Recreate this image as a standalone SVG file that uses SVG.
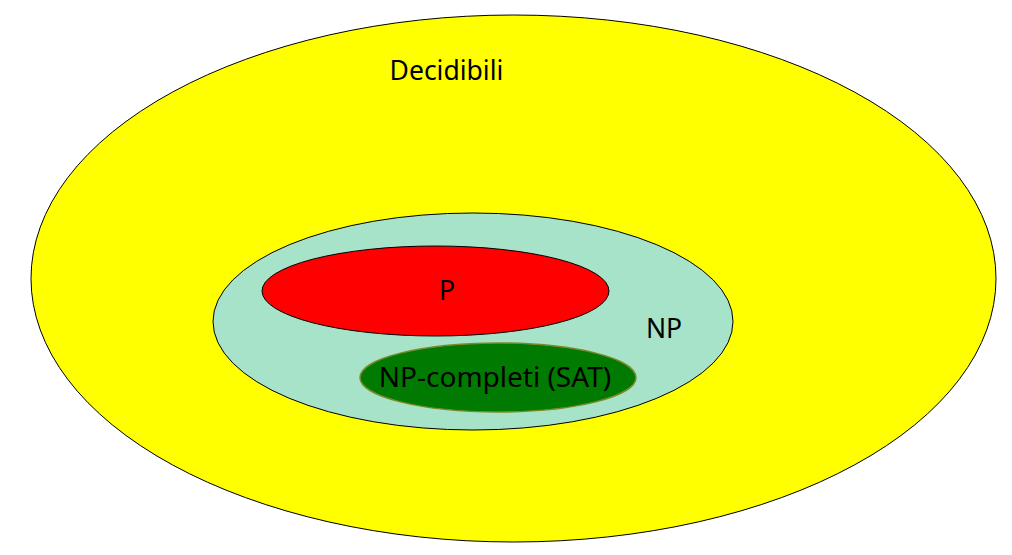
<svg xmlns="http://www.w3.org/2000/svg" width="1012" height="555" viewBox="0 0 1012 555">
<style>
text { font-family: "Comic Sans MS", "Noto Sans", "DejaVu Sans", sans-serif; fill: #000; }
.lbl { font-size: 26.5px; }
.set { stroke: #000; stroke-width: 1; }
</style>
<rect width="1012" height="555" fill="#fff"/>
<g id="decidibili">
<ellipse class="set" cx="513.5" cy="278.5" rx="482.5" ry="263.5" fill="#ffff00"/>
<text class="lbl" x="446.5" y="80" text-anchor="middle">Decidibili</text>
</g>
<g id="np">
<ellipse class="set" cx="473" cy="321.5" rx="260" ry="108.5" fill="#a6e3c8"/>
<text class="lbl" x="664" y="338" text-anchor="middle" font-size="28">NP</text>
</g>
<g id="p">
<ellipse class="set" cx="435.5" cy="291" rx="173.5" ry="45" fill="#ff0000"/>
<text class="lbl" x="447" y="300" text-anchor="middle">P</text>
</g>
<g id="npcompleti">
<ellipse cx="498" cy="377.5" rx="138" ry="34.5" fill="#007a00" stroke="#7a8a2a" stroke-width="1.5"/>
<text x="495" y="387" text-anchor="middle" font-size="28">NP-completi (SAT)</text>
</g>
<g id="connectors"/>
</svg>
